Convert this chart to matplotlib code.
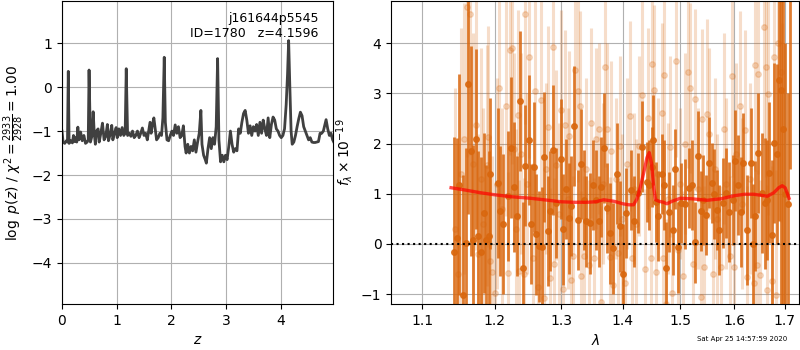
import numpy as np
import matplotlib
matplotlib.use('Agg')
from matplotlib import pyplot as plt
from matplotlib.ticker import FixedLocator, FixedFormatter, NullLocator

# redshift probability curve
z_grid = [0.00, 0.02, 0.05, 0.08, 0.10, 0.115, 0.13, 0.16, 0.19, 0.21,
          0.23, 0.25, 0.27, 0.29, 0.31, 0.34, 0.37, 0.40, 0.43, 0.46,
          0.48, 0.495, 0.52, 0.55, 0.57, 0.59, 0.61, 0.63, 0.66, 0.68,
          0.71, 0.74, 0.77, 0.80, 0.83, 0.85, 0.88, 0.91, 0.93, 0.96,
          0.99, 1.01, 1.04, 1.07, 1.10, 1.13, 1.155, 1.175, 1.20, 1.23,
          1.26, 1.29, 1.32, 1.35, 1.38, 1.41, 1.44, 1.47, 1.50, 1.53,
          1.56, 1.59, 1.61, 1.63, 1.65, 1.68, 1.71, 1.73, 1.76, 1.79,
          1.82, 1.845, 1.87, 1.89, 1.92, 1.95, 1.98, 2.01, 2.04, 2.07,
          2.10, 2.13, 2.16, 2.19, 2.22, 2.25, 2.27, 2.30, 2.33, 2.36,
          2.39, 2.42, 2.45, 2.48, 2.51, 2.54, 2.56, 2.59, 2.62, 2.64,
          2.67, 2.70, 2.73, 2.76, 2.79, 2.82, 2.846, 2.87, 2.90, 2.93,
          2.96, 2.99, 3.02, 3.05, 3.08, 3.11, 3.14, 3.17, 3.20, 3.23,
          3.26, 3.29, 3.32, 3.35, 3.38, 3.41, 3.44, 3.47, 3.50, 3.53,
          3.56, 3.59, 3.62, 3.65, 3.68, 3.71, 3.74, 3.77, 3.80, 3.83,
          3.86, 3.89, 3.92, 3.95, 3.98, 4.01, 4.04, 4.07, 4.10, 4.125,
          4.145, 4.165, 4.19, 4.21, 4.24, 4.27, 4.30, 4.33, 4.36, 4.39,
          4.42, 4.45, 4.48, 4.51, 4.54, 4.57, 4.60, 4.63, 4.66, 4.69,
          4.72, 4.75, 4.78, 4.81, 4.83, 4.86, 4.89, 4.92, 4.95, 4.97]
log_pz = [-1.00, -1.25, -1.28, -1.22, -1.25, 0.36, -1.28, -1.22, -1.27, -1.10,
          -1.24, -1.15, -1.25, -0.91, -1.20, -1.02, -1.22, -1.10, -1.28, -1.25,
          -1.20, 0.39, -1.25, -1.10, -0.56, -1.05, -1.30, -1.00, -0.95, -1.25,
          -1.05, -0.82, -1.20, -1.12, -0.85, -1.22, -1.08, -0.87, -1.20, -1.05,
          -0.92, -1.15, -0.95, -1.10, -0.92, -1.10, -1.05, 0.42, -1.10, -1.05,
          -1.12, -1.00, -1.15, -1.10, -1.00, -1.15, -1.05, -0.93, -1.10, -1.05,
          -1.20, -0.95, -0.80, -1.05, -0.88, -0.70, -1.00, -1.20, -1.15, -1.05,
          -1.10, -0.70, 0.68, -0.80, -1.20, -1.22, -1.10, -1.00, -1.10, -0.86,
          -1.05, -0.90, -1.15, -1.10, -0.88, -1.35, -1.50, -1.30, -1.50, -1.35,
          -1.45, -1.20, -1.48, -1.25, -1.05, -0.53, -1.30, -1.55, -1.65, -1.73,
          -1.40, -1.15, -1.40, -1.15, -1.30, -0.90, 0.65, -1.20, -1.70, -1.55,
          -1.70, -1.55, -1.65, -1.35, -1.00, -1.30, -1.48, -1.40, -1.45, -0.95,
          -1.05, -0.80, -0.60, -0.53, -0.75, -1.05, -0.88, -1.10, -0.90, -1.00,
          -0.85, -1.10, -0.80, -1.05, -0.75, -0.95, -1.10, -0.70, -1.15, -0.85,
          -0.68, -0.75, -0.95, -1.00, -1.10, -1.15, -1.10, -0.95, -0.40, 0.30,
          1.06, 0.10, -1.00, -1.30, -1.25, -1.10, -0.90, -0.72, -0.57, -0.65,
          -0.90, -1.00, -1.10, -1.20, -1.15, -1.25, -1.26, -1.26, -1.25, -1.24,
          -1.05, -1.05, -1.00, -0.85, -0.74, -0.95, -1.10, -1.05, -1.20, -1.25]

# grism spectrum, first set (dark points)
wave_a = [1.143, 1.147, 1.150, 1.155, 1.160, 1.163, 1.166, 1.170, 1.174, 1.177,
          1.180, 1.185, 1.188, 1.192, 1.194, 1.205, 1.208, 1.213, 1.219, 1.224,
          1.228, 1.233, 1.238, 1.241, 1.245, 1.250, 1.254, 1.258, 1.262, 1.266,
          1.270, 1.274, 1.279, 1.283, 1.287, 1.292, 1.299, 1.303, 1.307, 1.312,
          1.316, 1.320, 1.326, 1.331, 1.336, 1.340, 1.346, 1.350, 1.355, 1.360,
          1.363, 1.368, 1.373, 1.379, 1.383, 1.390, 1.395, 1.400, 1.406, 1.413,
          1.419, 1.426, 1.432, 1.441, 1.445, 1.449, 1.452, 1.457, 1.461, 1.467,
          1.471, 1.474, 1.479, 1.486, 1.491, 1.495, 1.502, 1.508, 1.515, 1.521,
          1.526, 1.532, 1.537, 1.542, 1.546, 1.553, 1.558, 1.562, 1.567, 1.572,
          1.578, 1.584, 1.591, 1.597, 1.602, 1.608, 1.613, 1.618, 1.625, 1.632,
          1.636, 1.641, 1.647, 1.654, 1.661, 1.665, 1.669, 1.674, 1.679, 1.684,
          1.689, 1.692, 1.696, 1.701, 1.706, 1.712]
flux_a = [-0.17, 0.11, 1.18, -1.02, 0.01, 3.19, 1.85, 0.08, 2.09, 0.16,
          -0.17, 0.62, 0.08, 0.16, 1.40, 1.21, 0.66, 0.40, 0.95, 1.92,
          1.13, 0.56, 2.85, -0.47, 1.56, 2.07, 0.40, 1.53, 0.19, -0.05,
          -0.07, 1.73, 0.26, 0.66, 1.87, 0.81, 1.69, 0.29, 1.09, 0.51,
          0.76, 2.35, 0.48, 1.59, 0.88, 0.45, 0.41, 1.18, 0.88, 0.45,
          1.13, 1.91, 0.71, 0.21, -0.09, 1.40, 0.35, -0.60, 0.62, 1.08,
          0.45, 1.01, 1.94, 1.24, 1.18, 1.53, 2.07, 0.84, 0.56, 1.40,
          1.18, -0.47, 0.64, 0.28, 1.49, -0.07, 0.81, 0.80, 1.11, 1.18,
          0.03, 1.75, 0.66, 0.88, 0.58, 1.62, 1.21, 1.00, 0.68, 0.28,
          0.81, 1.01, 0.64, 0.88, 1.66, 1.18, 0.64, 1.61, 0.28, 1.61,
          0.00, 0.56, 1.81, 1.01, 0.81, 0.88, 1.42, 0.18, 2.01, 1.79,
          3.26, 3.07, 2.30, 1.00, 0.80, 5.30]
err_a = [2.3, 2.0, 2.2, 2.4, 1.9, 2.6, 2.1, 1.9, 1.8, 1.7,
         1.9, 1.6, 1.5, 1.7, 1.5, 1.5, 1.3, 1.4, 1.3, 1.4,
         1.3, 1.2, 1.4, 1.3, 1.2, 1.3, 1.2, 1.3, 1.2, 1.1,
         1.2, 1.3, 1.1, 1.2, 1.3, 1.1, 1.2, 1.1, 1.0, 1.1,
         1.0, 1.2, 1.0, 1.1, 1.0, 0.9, 1.0, 0.9, 1.0, 0.9,
         1.0, 1.1, 0.9, 1.0, 0.9, 1.0, 0.9, 1.0, 0.9, 0.8,
         0.9, 0.8, 0.9, 0.8, 0.9, 0.8, 0.9, 0.8, 0.9, 0.8,
         0.9, 0.9, 0.8, 0.9, 0.8, 0.9, 0.8, 0.9, 0.8, 0.9,
         0.8, 0.9, 0.8, 0.9, 0.8, 0.9, 0.8, 0.9, 0.8, 0.9,
         0.9, 0.9, 1.0, 0.9, 1.0, 1.0, 1.1, 1.0, 1.1, 1.1,
         1.2, 1.1, 1.2, 1.2, 1.3, 1.2, 1.4, 1.5, 1.6, 1.8,
         2.8, 5.0, 6.0, 3.0, 2.2, 3.8]

# second set (faint points)
wave_b = [1.144, 1.149, 1.153, 1.157, 1.161, 1.165, 1.169, 1.173, 1.177, 1.180,
          1.184, 1.189, 1.190, 1.193, 1.196, 1.201, 1.204, 1.207, 1.211, 1.216,
          1.219, 1.222, 1.225, 1.229, 1.232, 1.234, 1.236, 1.239, 1.243, 1.245,
          1.247, 1.251, 1.256, 1.260, 1.264, 1.269, 1.273, 1.276, 1.280, 1.283,
          1.287, 1.289, 1.292, 1.297, 1.300, 1.303, 1.306, 1.310, 1.313, 1.315,
          1.319, 1.322, 1.326, 1.329, 1.332, 1.336, 1.340, 1.344, 1.348, 1.352,
          1.356, 1.360, 1.363, 1.367, 1.370, 1.373, 1.378, 1.380, 1.384, 1.388,
          1.392, 1.395, 1.399, 1.403, 1.407, 1.412, 1.415, 1.419, 1.423, 1.427,
          1.432, 1.438, 1.442, 1.448, 1.450, 1.453, 1.457, 1.461, 1.467, 1.469,
          1.471, 1.474, 1.478, 1.481, 1.485, 1.492, 1.495, 1.499, 1.505, 1.509,
          1.513, 1.518, 1.522, 1.527, 1.532, 1.537, 1.540, 1.543, 1.548, 1.553,
          1.559, 1.563, 1.568, 1.575, 1.580, 1.584, 1.592, 1.595, 1.599, 1.604,
          1.612, 1.616, 1.621, 1.625, 1.630, 1.638, 1.640, 1.645, 1.646, 1.651,
          1.659, 1.662, 1.664, 1.666, 1.674, 1.679, 1.682, 1.686, 1.692, 1.695]
flux_b = [0.30, -0.60, 1.40, 2.10, 4.73, 4.58, 1.60, 2.37, -0.20, 1.30,
          0.40, 1.57, 2.14, -0.35, -0.55, -0.98, 1.20, 3.10, 0.70, 2.75,
          -0.57, 3.87, 3.90, 1.90, 0.30, 2.57, -0.53, 1.80, -0.59, 4.58,
          1.20, 3.72, -0.29, 3.04, -0.85, 2.87, -1.08, 1.50, 2.34, -0.68,
          3.92, -0.39, 1.57, 0.60, 2.67, -0.90, 2.37, 0.90, 2.15, -0.72,
          -0.25, 3.47, 3.04, 2.75, -0.64, -0.24, 1.50, -0.42, 2.41, -0.29,
          2.10, 2.30, -1.15, 1.20, 3.53, 2.30, -0.27, 1.85, -0.82, 1.30,
          -0.19, 1.95, 0.50, -0.78, 1.60, 2.55, -0.29, 1.10, 0.40, 1.95,
          2.96, -0.50, 2.50, -0.29, 3.59, 3.06, -0.55, 1.40, 2.60, -0.29,
          3.36, -1.20, 0.90, 1.94, -0.97, 3.64, -0.13, 1.20, -0.64, 2.00,
          3.42, 3.11, -0.39, 2.88, 1.10, -1.05, 2.48, -0.45, 2.58, 2.20,
          -0.59, 1.50, 0.50, -0.45, 2.30, 1.20, -0.25, 3.34, -0.45, 1.80,
          2.75, 0.80, 2.27, -0.65, 1.30, -0.77, 3.56, -0.42, 3.39, -0.62,
          4.32, 3.53, -0.92, 2.98, -0.74, 3.73, -1.02, 4.00, 3.43, 1.20]
err_b = [2.8, 2.6, 2.9, 2.7, 3.0, 2.8, 2.6, 2.5, 2.4, 2.6,
         2.3, 2.4, 2.2, 2.5, 2.3, 2.2, 2.1, 2.3, 2.0, 2.2,
         2.0, 2.1, 2.3, 1.9, 2.0, 2.1, 1.8, 2.0, 1.9, 2.2,
         1.8, 2.0, 1.9, 2.1, 1.8, 2.0, 1.9, 1.7, 2.0, 1.8,
         2.1, 1.7, 1.9, 1.8, 2.0, 1.7, 1.9, 1.8, 1.7, 1.9,
         1.6, 2.0, 1.8, 1.9, 1.7, 1.6, 1.8, 1.7, 1.9, 1.6,
         1.8, 1.7, 1.9, 1.6, 2.0, 1.7, 1.6, 1.8, 1.7, 1.6,
         1.5, 1.8, 1.7, 1.6, 1.7, 1.9, 1.6, 1.5, 1.7, 1.8,
         1.9, 1.6, 1.8, 1.5, 2.0, 1.7, 1.6, 1.5, 1.8, 1.6,
         1.9, 1.7, 1.5, 1.8, 1.6, 1.9, 1.6, 1.5, 1.7, 1.8,
         1.9, 1.7, 1.6, 1.8, 1.6, 1.7, 1.8, 1.6, 1.9, 1.7,
         1.6, 1.8, 1.7, 1.6, 1.9, 1.7, 1.6, 2.0, 1.7, 1.8,
         1.9, 1.7, 2.0, 1.8, 1.9, 1.8, 2.1, 1.9, 2.0, 1.9,
         2.3, 2.2, 2.1, 2.4, 2.3, 2.6, 2.5, 2.8, 3.0, 3.2]

# best-fit template
wave_model = [1.139, 1.160, 1.180, 1.200, 1.225, 1.253, 1.280, 1.300, 1.320, 1.341,
              1.355, 1.368, 1.385, 1.400, 1.410, 1.418, 1.424, 1.430, 1.436, 1.441,
              1.445, 1.449, 1.453, 1.456, 1.462, 1.470, 1.476, 1.485, 1.500, 1.520,
              1.549, 1.575, 1.600, 1.620, 1.638, 1.652, 1.665, 1.678, 1.688, 1.695,
              1.701, 1.705, 1.709]
flux_model = [1.12, 1.07, 1.02, 0.98, 0.94, 0.91, 0.87, 0.84, 0.83, 0.83,
              0.84, 0.88, 0.85, 0.80, 0.78, 0.78, 0.90, 1.15, 1.45, 1.72,
              1.82, 1.60, 1.10, 0.88, 0.85, 0.83, 0.80, 0.85, 0.91, 0.90,
              0.87, 0.90, 0.96, 0.99, 0.99, 0.97, 0.95, 1.02, 1.12, 1.16,
              1.12, 1.02, 0.91]

spec_color = '#d9670e'

fig = plt.figure(figsize=(8, 3.5), dpi=100)
ax1 = fig.add_axes([0.0775, 0.131, 0.339, 0.866])
ax2 = fig.add_axes([0.489, 0.131, 0.510, 0.866])

# p(z)
ax1.plot(z_grid, log_pz, color='0.25', lw=2)
ax1.set_xlim(0, 4.96)
ax1.set_ylim(-4.94, 1.96)
ax1.set_xticks([0, 1, 2, 3, 4])
ax1.set_yticks([-4, -3, -2, -1, 0, 1])
ax1.set_xlabel('$z$')
ax1.set_ylabel(r'$\log\ p(z)$ / $\chi^2=\frac{2933}{2928}=1.00$')
ax1.text(0.945, 0.965, 'j161644p5545\nID=1780   z=4.1596', transform=ax1.transAxes,
         ha='right', va='top', fontsize=9)
ax1.grid(True)

# spectrum
ax2.errorbar(wave_b, flux_b, yerr=err_b, fmt='o', color=spec_color, alpha=0.22,
             ms=4, elinewidth=2.2, capsize=0)
ax2.errorbar(wave_a, flux_a, yerr=err_a, fmt='o', color=spec_color, alpha=0.85,
             ms=4, elinewidth=2.0, capsize=0)
ax2.plot(wave_model, flux_model, color='red', alpha=0.7, lw=2.4, zorder=5)
ax2.axhline(0, color='k', ls=':', lw=1.5, zorder=6)

ax2.set_xscale('log')
ax2.minorticks_off()
ax2.set_xlim(1.06, 1.73)
ax2.set_ylim(-1.2, 4.84)
xt = [1.1, 1.2, 1.3, 1.4, 1.5, 1.6, 1.7]
ax2.xaxis.set_major_locator(FixedLocator(xt))
ax2.xaxis.set_major_formatter(FixedFormatter(['%.1f' % v for v in xt]))
ax2.xaxis.set_minor_locator(NullLocator())
ax2.set_yticks([-1, 0, 1, 2, 3, 4])
ax2.set_xlabel(r'$\lambda$')
ax2.set_ylabel(r'$f_\lambda\times10^{-19}$')
ax2.grid(True)

fig.text(0.984, 0.031, 'Sat Apr 25 14:57:59 2020', ha='right', va='center', fontsize=5)

fig.savefig('out.png', dpi=100)
